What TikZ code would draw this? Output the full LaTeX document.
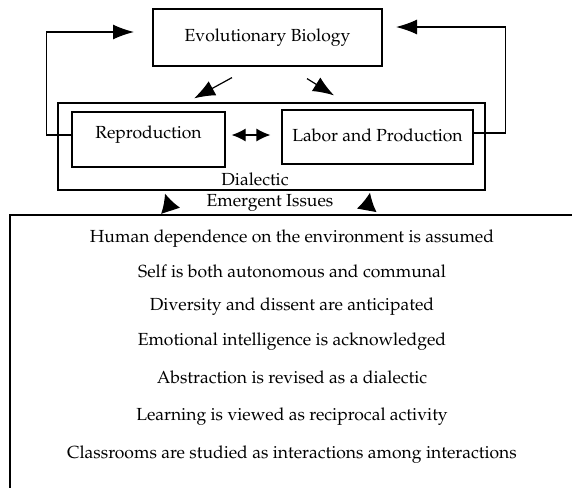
\documentclass[tikz,border=0pt]{standalone}
\usepackage[T1]{fontenc}
\usepackage{mathpazo}
\usetikzlibrary{arrows.meta}

\begin{document}
\begin{tikzpicture}[x=1pt, y=-1pt,
		>={Latex[length=21pt, width=16pt]},   %Pfeilspitzen
		line width=1.2pt,
		font=\fontsize{17.5}{20}\selectfont,
		box/.style={draw, inner sep=0pt},
		fb/.style={->, >={Latex[length=21pt, width=15pt]}},
		dbl/.style={{Latex[length=14pt, width=13pt]}-{Latex[length=14pt, width=13pt]}},
		up/.style={->, >={Latex[length=18pt, width=20pt]}},
		issue/.style={text height=12pt, text depth=4pt}]
		%Bildbereich
		\useasboundingbox (0,0) rectangle (572,488);
		%Kaesten oben
		\node[box, minimum width=229pt, minimum height=57pt] (evo) at (267.5,37.5) {Evolutionary Biology};
		\node[box, minimum width=427pt, minimum height=87pt] (dialbox) at (271.5,146.5) {};
		\node[box, minimum width=153pt, text height=26pt, text depth=29pt] (repro) at (148.5,139.5) {Reproduction};
		\node[box, minimum width=191pt, text height=31pt, text depth=23pt] (labor) at (377.5,137) {Labor and Production};
		\node (dialectic) at (255,179) {Dialectic};
		\node (emergent) at (270,203) {Emergent Issues};
		%Rueckkopplung
		\coordinate (fbL) at (134,32);
		\coordinate (fbR) at (396,27);
		\draw[fb] ([yshift=4.5pt]repro.west) -- ++(-25,0) |- (fbL);
		\draw[fb] ([yshift=4pt]labor.east) -- ++(32,0) |- (fbR);
		%Pfeile
		\draw[->] ([xshift=-35.5pt, yshift=-11pt]evo.south) -- ([xshift=-77.5pt, yshift=4pt]dialbox.north);
		\draw[->] ([xshift=39.5pt, yshift=-12pt]evo.south) -- ([xshift=62.5pt, yshift=7pt]dialbox.north);
		\draw[dbl] ([xshift=6pt, yshift=4.5pt]repro.east) -- ([xshift=-11pt, yshift=2pt]labor.west);
		\draw[up] ([xshift=-100pt, yshift=-6pt]emergent.center) -- ([xshift=-106.5pt, yshift=-3pt]dialbox.south);
		\draw[up] ([xshift=97pt, yshift=-6pt]emergent.center) -- ([xshift=98.5pt, yshift=-2pt]dialbox.south);
		%Rahmen unten
		\draw (572,215) -| (10,488);
		%Aussagen
		\foreach \y/\txt [count=\i] in {238/Human dependence on the environment is assumed,
				273/Self is both autonomous and communal,
				306/Diversity and dissent are anticipated,
				341/Emotional intelligence is acknowledged,
				379/Abstraction is revised as a dialectic,
				416/Learning is viewed as reciprocal activity,
				454/Classrooms are studied as interactions among interactions}
			\node[issue] (issue\i) at (292,\y) {\txt};
	\end{tikzpicture}
\end{document}
